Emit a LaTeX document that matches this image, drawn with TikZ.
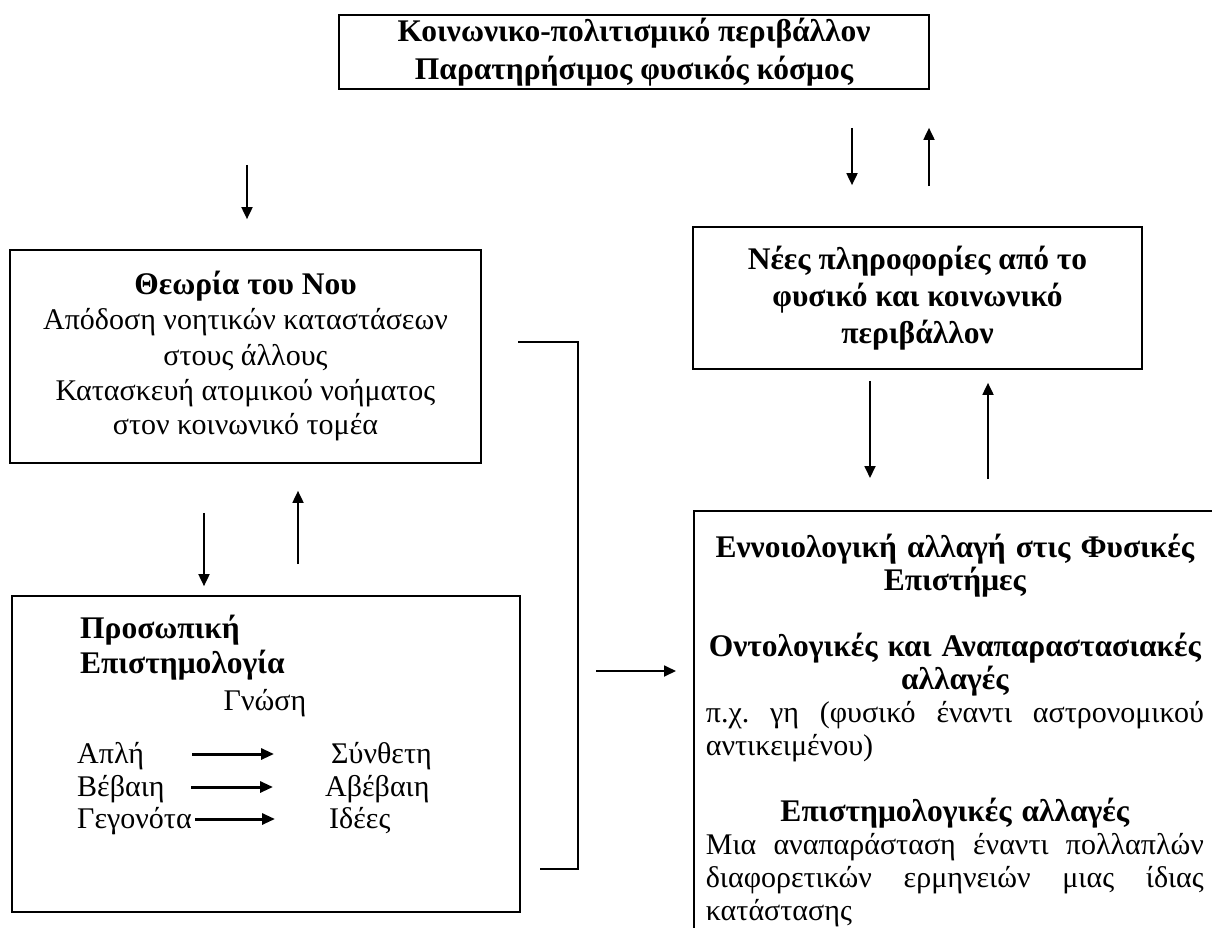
\documentclass[tikz,border=0pt]{standalone}
\usepackage{fontspec}
\setmainfont{Liberation Serif}
\usetikzlibrary{arrows.meta,positioning,calc}

% headings are set a little larger than the body text
\newcommand{\headfont}{\fontsize{31.5}{34}\selectfont\bfseries}
% one line of the right-hand column, centred or spread out
\newcommand{\boldline}[1]{\makebox[498pt]{\headfont #1}}
\newcommand{\fullline}[1]{\makebox[498pt][l]{#1}}

\begin{document}
\begin{tikzpicture}[x=1pt, y=-1pt,
  font=\fontsize{30}{33}\selectfont,
  box/.style={draw, line width=1.7pt, inner sep=0pt, align=center},
  word/.style={inner sep=0pt, anchor=base west},
  flow/.style={->, line width=1.8pt},
  shiftarrow/.style={->, line width=3pt, >={Triangle[length=13pt,width=11pt]}},
  >={Triangle[length=12pt,width=11pt]}]
  \useasboundingbox (0,0) rectangle (1212,928);
  \clip (0,0) rectangle (1212,928);

  % boxes
  \node[box, minimum width=590pt, minimum height=74pt, font=\fontsize{31.5}{38}\selectfont\bfseries] (env) at (634,52)
    {Κοινωνικο-πολιτισμικό περιβάλλον\\Παρατηρήσιμος φυσικός κόσμος};
  \node[box, minimum width=449pt, minimum height=142pt, font=\fontsize{31.5}{37}\selectfont\bfseries] (info) at (917.5,298)
    {Νέες πληροφορίες από το\\φυσικό και κοινωνικό\\περιβάλλον};
  \node[box, minimum width=471pt, minimum height=213pt, font=\fontsize{30}{35}\selectfont] (tom) at (245.5,356.5)
    {{\headfont Θεωρία του Νου}\\Απόδοση νοητικών καταστάσεων\\στους άλλους\\Κατασκευή ατομικού νοήματος\\στον κοινωνικό τομέα};
  \node[box, minimum width=508pt, minimum height=316pt] (epist) at (266,754) {};
  \node[box, anchor=north west, inner xsep=12pt, inner ysep=23pt, text width=498pt, align=left] (change) at (693,510) {%
    \boldline{Εννοιολογική αλλαγή στις Φυσικές}\\
    \boldline{Επιστήμες}\\
    \mbox{}\\
    \boldline{Οντολογικές και Αναπαραστασιακές}\\
    \boldline{αλλαγές}\\
    \fullline{π.χ.\hfill γη\hfill (φυσικό\hfill έναντι\hfill αστρονομικού}\\
    αντικειμένου)\\
    \mbox{}\\
    \boldline{Επιστημολογικές αλλαγές}\\
    \fullline{Μια\hfill αναπαράσταση\hfill έναντι\hfill πολλαπλών}\\
    \fullline{διαφορετικών\hfill ερμηνειών\hfill μιας\hfill ίδιας}\\
    κατάστασης};

  % personal epistemology
  \node[word, font=\headfont] (pers) at (80,638) {Προσωπική};
  \node[word, font=\headfont] (epi) at (80,673) {Επιστημολογία};
  \node[inner sep=0pt, anchor=base] (gnosi) at (265,710) {Γνώση};
  \node[word] (simple) at (77,763) {Απλή};
  \node[word] (certain) at (77,796) {Βέβαιη};
  \node[word] (facts) at (77,828) {Γεγονότα};
  \node[word] (complex) at (331,763) {Σύνθετη};
  \node[word] (uncertain) at (325,796) {Αβέβαιη};
  \node[word] (ideas) at (329,828) {Ιδέες};
  \coordinate (s1) at (192,754); \coordinate (e1) at (274,754);
  \coordinate (s2) at (191,787); \coordinate (e2) at (273,787);
  \coordinate (s3) at (195,819); \coordinate (e3) at (275,819);
  \draw[shiftarrow] (s1) -- (e1);
  \draw[shiftarrow] (s2) -- (e2);
  \draw[shiftarrow] (s3) -- (e3);

  % arrows between the boxes
  \coordinate (feed) at (247,165);
  \draw[flow, shorten >=30pt] (feed) -- (feed |- tom.north);
  \draw[flow, shorten <=38pt, shorten >=41pt] ([xshift=218pt]env.south) -- ([xshift=-65.5pt]info.north);
  \draw[flow, shorten <=40pt, shorten >=38pt] ([xshift=11.5pt]info.north) -- ([xshift=295pt]env.south);
  \draw[flow, shorten <=11pt, shorten >=32pt] ([xshift=-47.5pt]info.south) -- ([xshift=-47.5pt]info.south |- change.north);
  \draw[flow, shorten <=31pt, shorten >=13pt] ([xshift=70.5pt]info.south |- change.north) -- ([xshift=70.5pt]info.south);
  \draw[flow, shorten <=49pt, shorten >=9pt] ([xshift=-41.5pt]tom.south) -- ([xshift=-41.5pt]tom.south |- epist.north);
  \draw[flow, shorten <=31pt, shorten >=27pt] ([xshift=52.5pt]tom.south |- epist.north) -- ([xshift=52.5pt]tom.south);

  % bracket joining the left column to the right box
  \coordinate (btop) at (518,342);
  \coordinate (bbot) at (540,869);
  \coordinate (bx) at (578,0);
  \draw[line width=1.7pt] (btop) -- (btop -| bx) -- (bbot -| bx) -- (bbot);
  \coordinate (bout) at (596,671);
  \draw[flow, shorten >=17pt] (bout) -- (bout -| change.west);
\end{tikzpicture}
\end{document}
